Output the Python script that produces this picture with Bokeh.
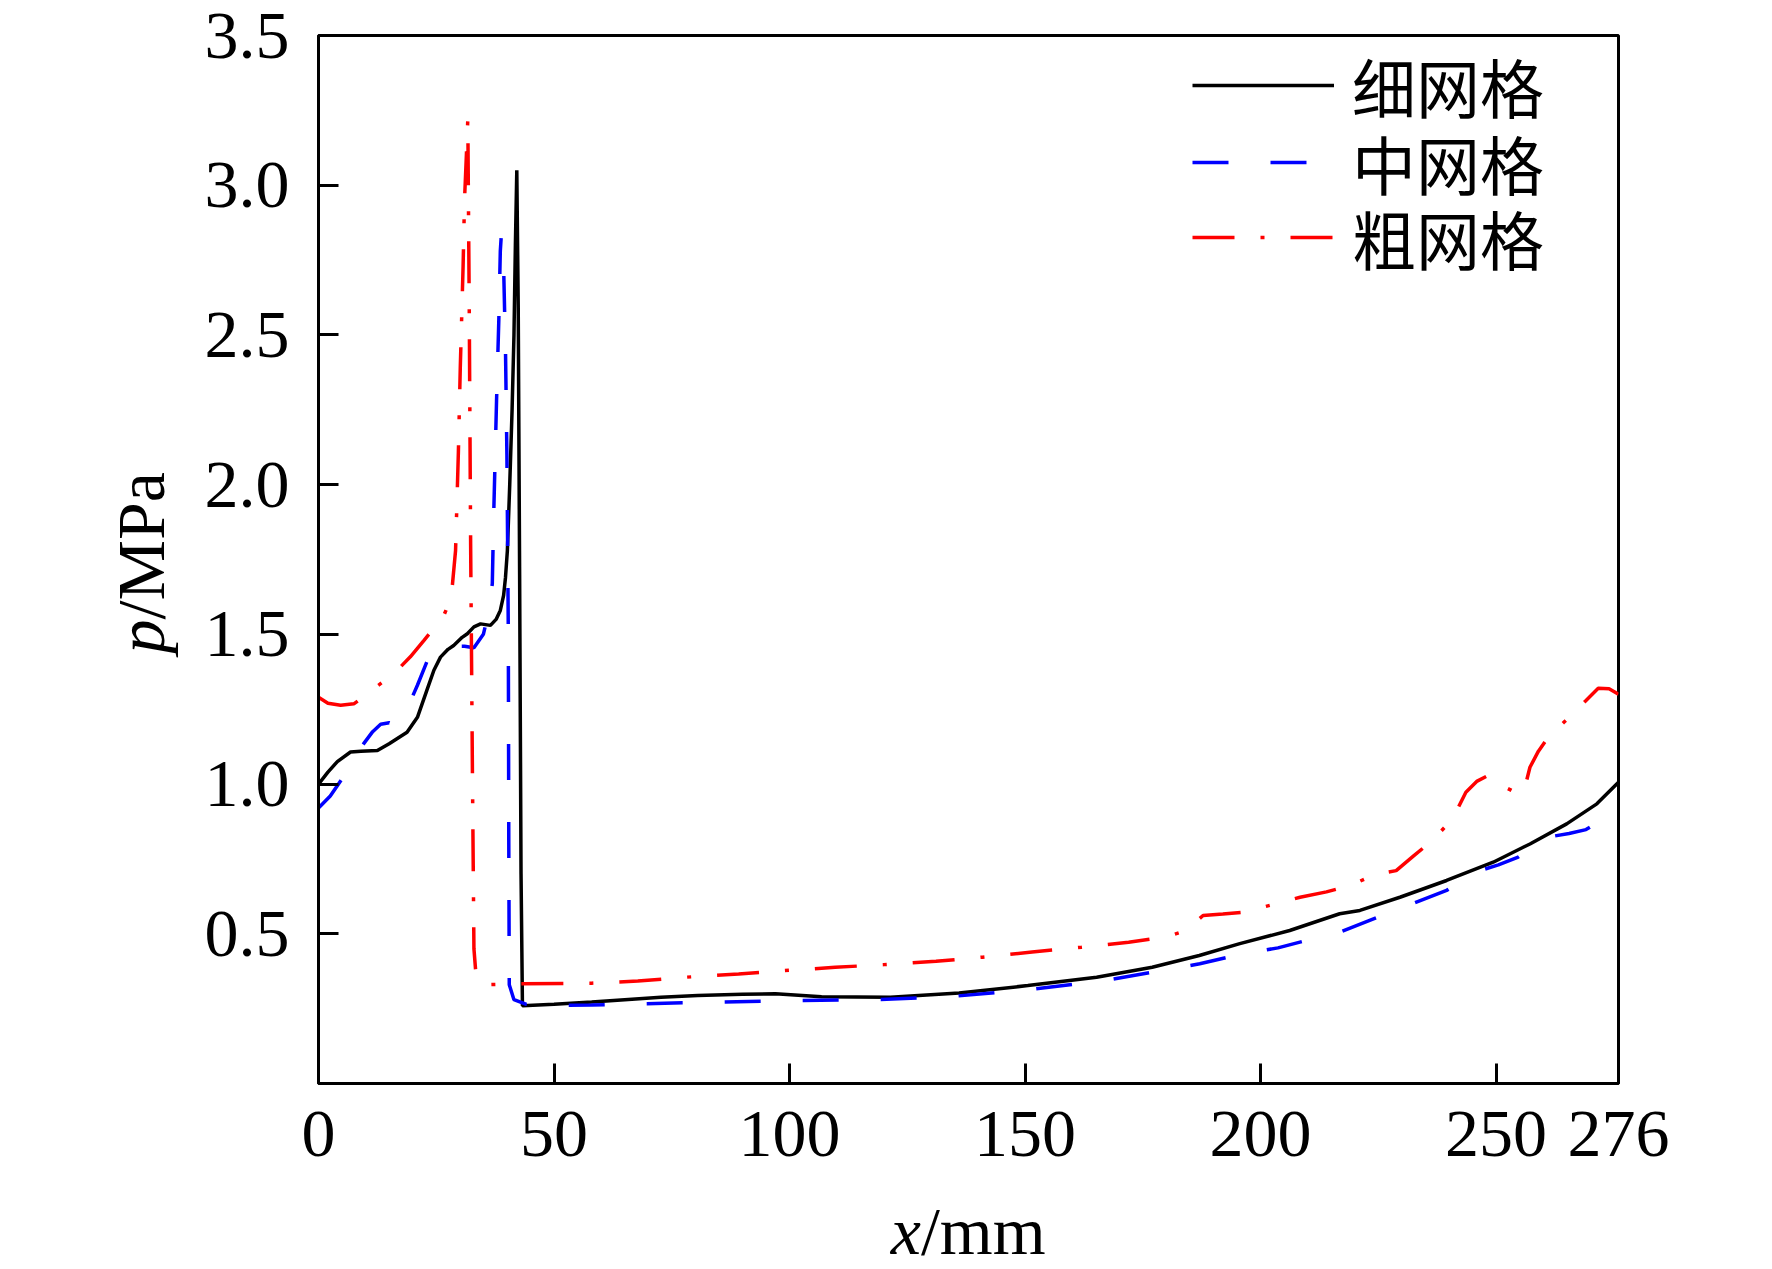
import math
from bokeh.plotting import figure
from bokeh.models import (ColumnDataSource, Range1d, FixedTicker, PrintfTickFormatter,
                          Legend, LegendItem, Label)
from bokeh.embed import file_html
from bokeh.resources import INLINE

# ---------------- data ----------------
fine_x = [0, 2, 4, 6.8, 9, 12.5, 15, 18.8, 21, 23, 24.5, 25.9, 27.5, 28.7, 30.5, 31.6, 33, 34.4,
          36.5, 37.7, 38.6, 39.3, 39.7, 40.1, 40.6, 41.1, 41.5, 41.8, 42.1, 42.4, 42.7, 43.0, 43.3,
          50, 58, 65, 72.7, 80.5, 90, 97, 106.8, 121.4, 136, 150.6, 165.2, 177, 187, 195.6,
          206.2, 216.8, 221.1, 229.6, 239.5, 249.4, 257.2, 265, 271.4, 276]
fine_p = [1.0, 1.04, 1.075, 1.107, 1.11, 1.112, 1.135, 1.173, 1.223, 1.313, 1.38, 1.424, 1.45,
          1.463, 1.49, 1.502, 1.525, 1.535, 1.53, 1.55, 1.58, 1.63, 1.69, 1.78, 2.0, 2.25, 2.5,
          2.8, 3.05, 2.6, 1.7, 0.7, 0.26,
          0.265, 0.272, 0.28, 0.288, 0.294, 0.298, 0.30, 0.29, 0.288, 0.302, 0.327, 0.355, 0.388,
          0.4275, 0.467, 0.511, 0.567, 0.578, 0.622, 0.678, 0.739, 0.80, 0.867, 0.934, 1.006]

med_x = [0, 2.5, 5, 7.5, 9.6, 11.5, 13.2, 15, 16.7, 18.5, 21, 23.4, 25, 28, 31, 33, 35, 36.2,
         36.9, 37.2, 37.8, 38.3, 38.6, 38.8, 39.3, 39.7, 40.0, 40.3, 40.4, 40.5, 41.5, 44, 48.3,
         58, 67.8, 85.3, 101.9, 118.4, 134, 150.6, 167.1, 183.7, 187.1, 196.2, 203.7, 209.8,
         217.2, 225.8, 231.8, 239.5, 246.6, 250.5, 254.7, 258, 261.8, 265.5, 269.1, 272, 276]
med_p = [0.92, 0.96, 1.018, 1.08, 1.135, 1.175, 1.2, 1.205, 1.196, 1.24, 1.33, 1.424, 1.45,
         1.46, 1.46, 1.455, 1.5, 1.58, 1.67, 1.9, 2.28, 2.56, 2.78, 2.83, 2.73, 2.45, 2.1, 1.5,
         0.8, 0.33, 0.28, 0.265, 0.26,
         0.262, 0.266, 0.272, 0.277, 0.28, 0.29, 0.313, 0.344, 0.39, 0.40, 0.433, 0.453, 0.478,
         0.508, 0.561, 0.598, 0.645, 0.711, 0.73, 0.756, 0.79, 0.825, 0.835, 0.848, 0.875, 0.918]

coarse_x = [0, 2, 4.7, 7.5, 9.5, 11.7, 14, 16.7, 19.5, 22.4, 24.5, 26.6, 27.6, 28.4, 29.1, 29.7,
            30.1, 30.7, 31.0, 31.5, 31.7, 32.0, 32.3, 32.7, 33.0, 33.5, 36, 43, 58, 67.8, 78,
            89.2, 99, 109.7, 120, 131.1, 141, 151.5, 162, 172, 180, 184, 187.8, 192, 196.2, 202,
            208.4, 214, 219, 224.3, 228.8, 232.5, 236.5, 240.8, 243.6, 246, 248.2, 250, 252.5,
            255, 256.3, 257.2, 259, 261.1, 265.2, 269.1, 271.7, 274, 276]
coarse_p = [1.29, 1.27, 1.263, 1.268, 1.29, 1.318, 1.345, 1.38, 1.425, 1.48, 1.52, 1.563, 1.6,
            1.66, 1.78, 2.11, 2.39, 2.73, 2.95, 3.14, 3.22, 2.6, 1.8, 1.0, 0.45, 0.35, 0.33,
            0.333, 0.335, 0.342, 0.355, 0.366, 0.377, 0.388, 0.397, 0.408, 0.422, 0.439, 0.455,
            0.472, 0.49, 0.51, 0.561, 0.566, 0.572, 0.595, 0.622, 0.64, 0.661, 0.698, 0.711,
            0.76, 0.812, 0.884, 0.973, 1.01, 1.028, 1.017, 0.985, 0.965, 1.0, 1.056, 1.11,
            1.157, 1.218, 1.279, 1.32, 1.318, 1.30]

series_names = ["细网格", "中网格", "粗网格"]
x_ticks = [0, 50, 100, 150, 200, 250, 276]
y_ticks = [0.5, 1.0, 1.5, 2.0, 2.5, 3.0, 3.5]

SERIF = "Liberation Serif"
CJK = "Noto Sans CJK SC"
FS = "68px"

p = figure(frame_width=1300, frame_height=1048,
           min_border_left=318, min_border_right=146, min_border_top=35, min_border_bottom=170,
           x_range=Range1d(0, 276), y_range=Range1d(0, 3.5),
           output_backend="svg", toolbar_location=None, background_fill_color="white",
           border_fill_color="white")
p.grid.visible = False
p.outline_line_color = "black"
p.outline_line_width = 3

for ax in (p.xaxis[0], p.yaxis[0]):
    ax.axis_line_width = 3
    ax.axis_line_color = "black"
    ax.major_tick_line_width = 3
    ax.major_tick_in = 20
    ax.major_tick_out = 0
    ax.minor_tick_line_color = None
    ax.major_label_text_font = SERIF
    ax.major_label_text_font_size = FS
    ax.major_label_text_color = "black"

p.xaxis.ticker = FixedTicker(ticks=x_ticks)
p.xaxis.formatter = PrintfTickFormatter(format="%d")
p.yaxis.ticker = FixedTicker(ticks=y_ticks)
p.yaxis.formatter = PrintfTickFormatter(format="%.1f")
p.xaxis.major_label_standoff = 28
p.yaxis.major_label_standoff = 29

s1 = ColumnDataSource(dict(x=fine_x, y=fine_p))
s2 = ColumnDataSource(dict(x=med_x, y=med_p))
s3 = ColumnDataSource(dict(x=coarse_x, y=coarse_p))

r1 = p.line("x", "y", source=s1, line_color="black", line_width=3.5)
r2 = p.line("x", "y", source=s2, line_color="blue", line_width=3.5, line_dash="36 42")
r3 = p.line("x", "y", source=s3, line_color="red", line_width=3.5, line_dash="42 26 4 26")

# one legend box per row so the row pitch matches the reference
row_bottoms = [948, 871, 796]
for name, rend, yb in zip(series_names, [r1, r2, r3], row_bottoms):
    lg = Legend(items=[LegendItem(label=name, renderers=[rend])],
                location=(874, yb), padding=0, margin=0, spacing=0,
                glyph_width=142, glyph_height=100, label_height=100, label_standoff=18,
                label_text_font=CJK, label_text_font_size="64px", label_text_color="black",
                border_line_color=None, background_fill_alpha=0)
    p.add_layout(lg)

# axis titles (italic variable + upright unit), placed in the side panels
p.add_layout(Label(x=121.5, y=-0.491, text="x", text_font=SERIF, text_font_size=FS,
                   text_font_style="italic", text_color="black",
                   text_align="left", text_baseline="alphabetic"), "below")
p.add_layout(Label(x=127.9, y=-0.491, text="/mm", text_font=SERIF, text_font_size=FS,
                   text_color="black", text_align="left", text_baseline="alphabetic"), "below")
p.add_layout(Label(x=-37.7, y=1.436, text="p", text_font=SERIF, text_font_size=FS,
                   text_font_style="italic", text_color="black", angle=math.pi / 2,
                   text_align="left", text_baseline="alphabetic"), "left")
p.add_layout(Label(x=-37.7, y=1.55, text="/MPa", text_font=SERIF, text_font_size=FS,
                   text_color="black", angle=math.pi / 2,
                   text_align="left", text_baseline="alphabetic"), "left")

open("out.html", "w").write(file_html(p, INLINE))
